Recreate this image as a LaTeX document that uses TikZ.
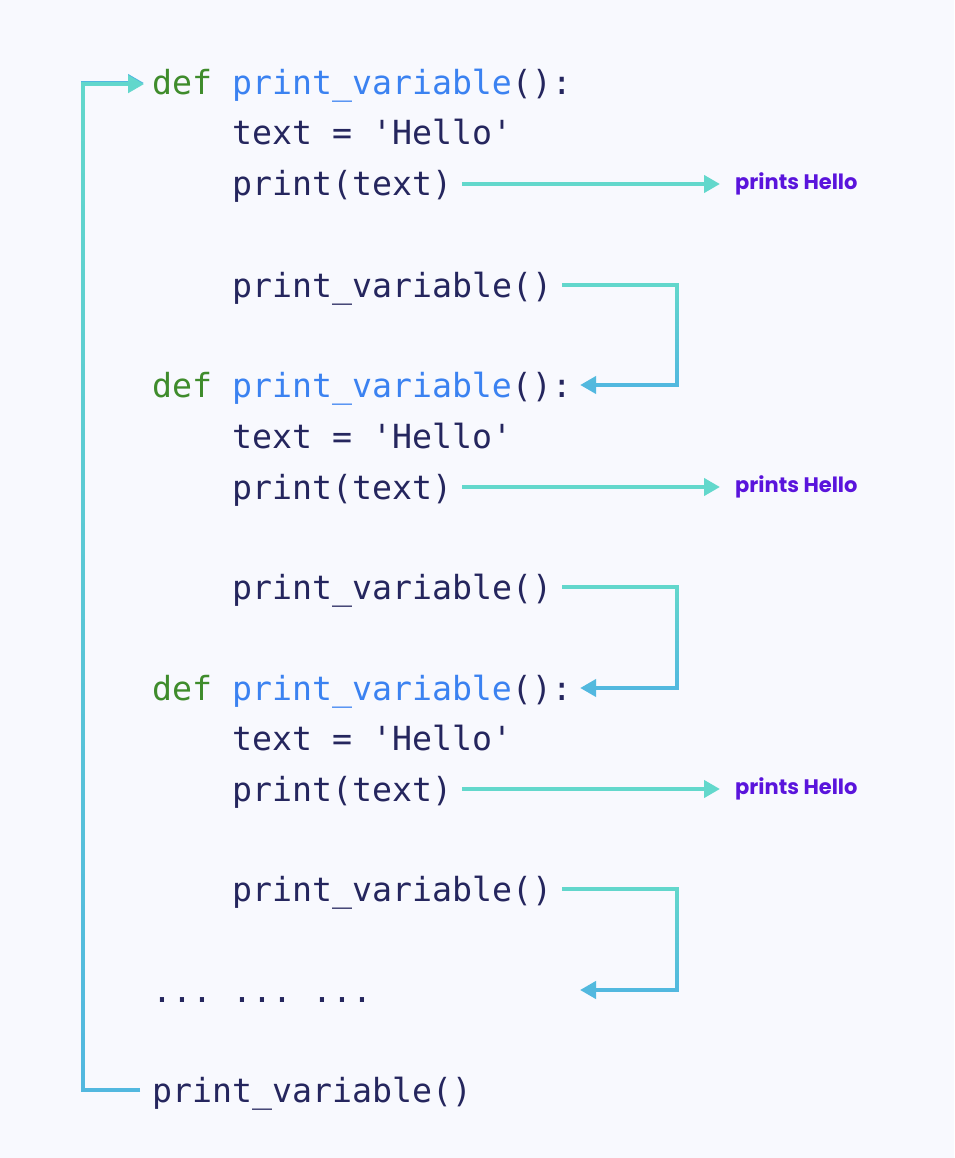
\documentclass[tikz,border=0pt]{standalone}
\usepackage{fontspec}
\setmonofont{DejaVu Sans Mono}
\newfontfamily\labelfont{Poppins}
\usetikzlibrary{arrows.meta,fadings}
\definecolor{bg}{HTML}{F8F9FE}
\definecolor{codec}{HTML}{25265E}
\definecolor{kwc}{HTML}{3F8C2C}
\definecolor{fnc}{HTML}{3B82F1}
\definecolor{lblc}{HTML}{5A14DC}
\definecolor{tealc}{HTML}{63D8CC}
\definecolor{bluec}{HTML}{52B8E0}
\newcommand{\us}{{\char"5F}}
\begin{document}
\begin{tikzpicture}[x=1pt,y=-1pt,
  code/.style={anchor=west,inner sep=0pt,text height=24pt,text depth=0pt,
    font=\fontsize{33.2}{40}\selectfont\ttfamily,text=codec},
  lbl/.style={anchor=west,inner sep=0pt,font=\fontsize{21}{24}\selectfont\labelfont\bfseries,text=lblc},
  conn/.style={line width=4pt,-{Triangle[length=16pt,width=17pt]}},
  tconn/.style={conn,draw=tealc},
  gconn/.style={conn,draw=tealc,path fading=south},
  bconn/.style={conn,draw=bluec}]
\fill[bg] (0,0) rectangle (954,1158);
\newcommand{\df}{\textcolor{kwc}{def} \textcolor{fnc}{print\us variable}()\string:}
% code lines
\node[code] (d1) at (152,83) {\df};
\node[code] (t1) at (232,133) {text = 'Hello'};
\node[code] (p1) at (232,184) {print(text)};
\node[code] (c1) at (232,285) {print\us variable()};
\node[code] (d2) at (152,385) {\df};
\node[code] (t2) at (232,436) {text = 'Hello'};
\node[code] (p2) at (232,487) {print(text)};
\node[code] (c2) at (232,587) {print\us variable()};
\node[code] (d3) at (152,688) {\df};
\node[code] (t3) at (232,738) {text = 'Hello'};
\node[code] (p3) at (232,789) {print(text)};
\node[code] (c3) at (232,889) {print\us variable()};
\node[code] (dots) at (152,990) {... ... ...};
\node[code] (call) at (152,1090) {print\us variable()};
% labels
\node[lbl] (h1) at (735,184) {prints Hello};
\node[lbl] (h2) at (735,487) {prints Hello};
\node[lbl] (h3) at (735,789) {prints Hello};
% coordinate for the open end
\coordinate (dotsend) at (580,990);
% print arrows
\foreach \i in {1,2,3}{
  \draw[tconn] ([xshift=10pt]p\i.east) -- ([xshift=-15pt]h\i.west);
}
% bracket arrows
\foreach \a/\b in {c1/d2,c2/d3}{
  \draw[bconn] ([xshift=10pt]\a.east) -| (677,0 |- \b.east) -- ([xshift=8pt]\b.east);
  \draw[gconn] ([xshift=10pt]\a.east) -| (677,0 |- \b.east) -- ([xshift=8pt]\b.east);
}
\draw[bconn] ([xshift=10pt]c3.east) -| (677,990) -- (dotsend);
\draw[gconn] ([xshift=10pt]c3.east) -| (677,990) -- (dotsend);
% big loop
\draw[bconn] ([xshift=-12pt]call.west) -| (83,83) -- ([xshift=-8pt]d1.west);
\draw[gconn] ([xshift=-12pt]call.west) -| (83,83) -- ([xshift=-8pt]d1.west);
\end{tikzpicture}
\end{document}
